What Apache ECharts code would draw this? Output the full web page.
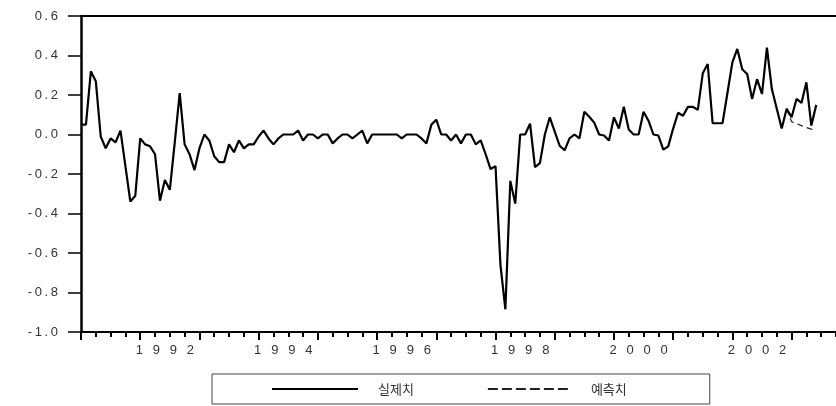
<!DOCTYPE html>
<html>
<head>
<meta charset="utf-8">
<style>
  html, body { margin: 0; padding: 0; background: #fff; }
  #main { width: 836px; height: 406px; }
</style>
<script src="https://cdn.jsdelivr.net/npm/echarts@6/dist/echarts.min.js"></script>
</head>
<body>
<div id="main"></div>
<script>
// 월별 자료 1991-01 ~ 2003-10 (축 범위)
var startYear = 1991;
var monthCount = 154;
var months = [];
for (var i = 0; i < monthCount; i++) {
  months.push((startYear + Math.floor(i / 12)) + '-' + String(i % 12 + 1).padStart(2, '0'));
}

// 실제치 (1991-01 ~ 2003-06)
var actual = [
  0.05, 0.05, 0.32, 0.27, -0.01, -0.07, -0.02, -0.04, 0.02, -0.16, -0.34, -0.31,
  -0.02, -0.05, -0.06, -0.10, -0.335, -0.23, -0.28, -0.04, 0.21, -0.05, -0.10, -0.18,
  -0.07, 0.0, -0.03, -0.11, -0.14, -0.14, -0.05, -0.09, -0.03, -0.07, -0.05, -0.05,
  -0.01, 0.02, -0.02, -0.05, -0.02, 0.0, 0.0, 0.0, 0.02, -0.03, 0.0, 0.0,
  -0.02, 0.0, 0.0, -0.045, -0.02, 0.0, 0.0, -0.02, 0.0, 0.02, -0.045, 0.0,
  0.0, 0.0, 0.0, 0.0, 0.0, -0.02, 0.0, 0.0, 0.0, -0.02, -0.045, 0.05,
  0.075, 0.0, 0.0, -0.03, 0.0, -0.045, 0.0, 0.0, -0.05, -0.03, -0.10, -0.175,
  -0.16, -0.66, -0.885, -0.235, -0.35, 0.0, 0.0, 0.055, -0.165, -0.145, 0.0, 0.087,
  0.015, -0.057, -0.08, -0.02, 0.0, -0.02, 0.115, 0.09, 0.06, 0.0, -0.005, -0.03,
  0.087, 0.03, 0.14, 0.025, 0.0, 0.0, 0.115, 0.07, 0.0, -0.005, -0.077, -0.06,
  0.03, 0.11, 0.095, 0.14, 0.14, 0.125, 0.31, 0.357, 0.057, 0.057, 0.057, 0.21,
  0.365, 0.433, 0.33, 0.306, 0.18, 0.28, 0.205, 0.44, 0.23, 0.13, 0.03, 0.13,
  0.087, 0.18, 0.16, 0.264, 0.045, 0.15
];

// 예측치 (2002-12 부터)
var forecastStart = 143;
var forecast = [0.13, 0.065, 0.055, 0.045, 0.035, 0.027, 0.02];

var yTicks = { min: -1.0, max: 0.6, step: 0.2 };

var forecastData = months.map(function (m, i) {
  var k = i - forecastStart;
  return (k >= 0 && k < forecast.length) ? forecast[k] : null;
});

var font = 'Liberation Sans, Arial, sans-serif';
// 범례용 점선 아이콘
var dashIcon = 'path://M0,0h10v2h-10zM14,0h10v2h-10zM28,0h10v2h-10zM42,0h10v2h-10zM56,0h10v2h-10zM70,0h10v2h-10z';

var chart = echarts.init(document.getElementById('main'));
chart.setOption({
  animation: false,
  grid: { left: 81, top: 16, right: 0, bottom: 74 },
  legend: {
    left: 212,
    top: 374,
    padding: [7, 83, 7, 60],
    borderColor: '#444',
    borderWidth: 1,
    itemWidth: 86,
    itemHeight: 2,
    itemGap: 74,
    textStyle: {
      fontFamily: 'Noto Sans CJK KR',
      fontSize: 13,
      lineHeight: 16,
      color: '#333',
      padding: [0, 0, 0, 15]
    },
    data: [
      { name: '실제치', icon: 'rect' },
      { name: '예측치', icon: dashIcon }
    ]
  },
  xAxis: [
    {
      // 분기 눈금
      type: 'category',
      data: months,
      boundaryGap: false,
      axisLine: { onZero: false, lineStyle: { color: '#000', width: 2 } },
      axisTick: {
        length: 5,
        lineStyle: { color: '#000', width: 2 },
        interval: function (idx) { return idx % 3 === 0; }
      },
      axisLabel: { show: false },
      splitLine: { show: false }
    },
    {
      // 연 눈금 + 라벨
      type: 'category',
      data: months,
      boundaryGap: false,
      position: 'bottom',
      axisLine: { show: false, onZero: false },
      axisTick: {
        length: 8,
        lineStyle: { color: '#000', width: 2 },
        interval: function (idx) { return idx % 12 === 0; }
      },
      axisLabel: {
        interval: function (idx) { return idx >= 17 && (idx - 17) % 24 === 0; },
        margin: 12,
        fontFamily: font,
        fontSize: 13,
        color: '#333',
        formatter: function (v) { return v.slice(0, 4).split('').join('  \u2009'); }
      },
      splitLine: { show: false }
    },
    {
      // 위쪽 테두리
      type: 'category',
      data: months,
      boundaryGap: false,
      position: 'top',
      axisLine: { onZero: false, lineStyle: { color: '#000', width: 2 } },
      axisTick: { show: false },
      axisLabel: { show: false }
    }
  ],
  yAxis: {
    type: 'value',
    min: yTicks.min,
    max: yTicks.max,
    interval: yTicks.step,
    axisLine: { show: true, onZero: false, lineStyle: { color: '#000', width: 2.5 } },
    axisTick: { show: true, length: 13, lineStyle: { color: '#000', width: 1.5 } },
    splitLine: { show: false },
    axisLabel: {
      margin: 23,
      fontFamily: font,
      fontSize: 13,
      color: '#333',
      formatter: function (v) { return v.toFixed(1).split('').join('\u2009'); }
    }
  },
  series: [
    {
      name: '실제치',
      type: 'line',
      data: actual,
      symbol: 'none',
      lineStyle: { color: '#000', width: 2.2 },
      itemStyle: { color: '#000' },
      z: 3
    },
    {
      name: '예측치',
      type: 'line',
      data: forecastData,
      symbol: 'none',
      lineStyle: { color: '#222', width: 1.2, type: [6, 4] },
      itemStyle: { color: '#222' },
      z: 2
    }
  ]
});
</script>
</body>
</html>
